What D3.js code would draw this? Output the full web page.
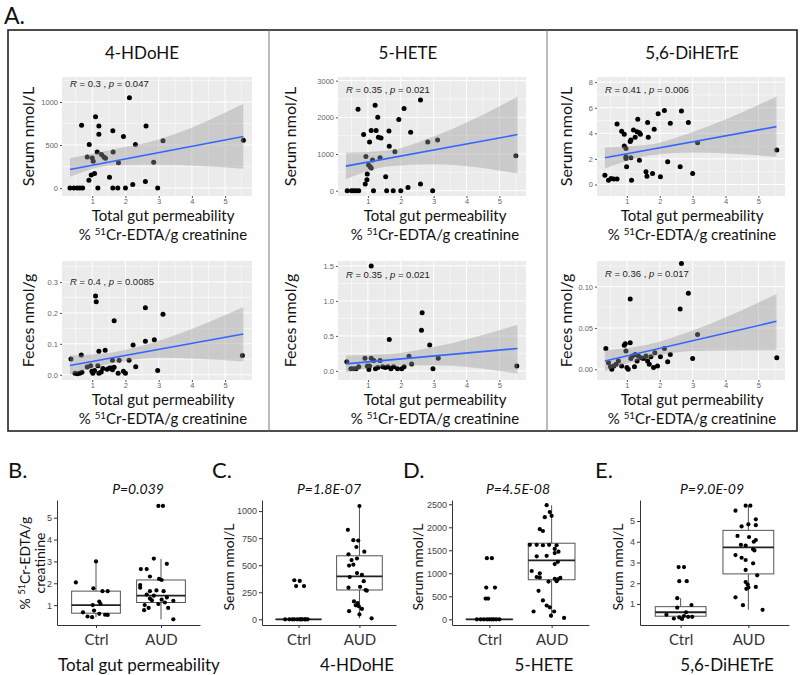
<!DOCTYPE html>
<html>
<head>
<meta charset="utf-8">
<script src="https://cdn.jsdelivr.net/npm/d3@7"></script>
<style>
  body { margin: 0; background: #fff; }
  svg { display: block; font-family: Lato, "Open Sans", sans-serif; }
</style>
</head>
<body>
<svg id="fig" width="800" height="675"></svg>
<script>
// ---- scatter data: [permeability, level] ----
var hdoheSerum = [[0.33,0],[0.45,0],[0.55,0],[0.63,0],[0.71,0],[0.68,730],[0.90,90],[0.91,505],[0.85,360],[1.0,350],
  [0.97,150],[1.07,170],[1.10,830],[1.2,720],[1.2,625],[1.15,420],[1.17,0],[1.28,390],[1.35,360],[1.03,310],[1.4,345],
  [1.52,125],[1.62,665],[1.63,420],[1.62,0],[1.79,295],[1.77,0],[1.94,600],[2.0,0],[2.12,1050],[2.22,40],[2.3,505],
  [2.62,720],[2.6,75],[2.85,300],[2.97,0],[3.13,550],[5.55,555]];
var heteSerum = [[0.37,0],[0.5,0],[0.57,0],[0.64,0],[0.72,0],[0.7,2220],[0.87,1530],[0.94,930],[0.92,180],[0.97,300],
  [0.98,455],[1.02,700],[1.07,650],[1.1,620],[1.05,1330],[1.1,1640],[1.14,840],[1.17,0],[1.22,2330],[1.25,1640],
  [1.3,2000],[1.32,1460],[1.4,1440],[1.37,900],[1.54,380],[1.57,0],[1.64,1630],[1.65,1210],[1.77,0],[1.82,1060],
  [1.94,1940],[2.0,0],[2.1,2240],[2.22,90],[2.3,1590],[2.6,2470],[2.6,180],[2.82,1330],[2.97,0],[3.12,1380],[5.5,950]];
var dihetreSerum = [[0.33,0.73],[0.44,0.34],[0.52,0.47],[0.6,0.42],[0.7,0.42],[0.7,4.73],[0.84,4.16],[0.92,3.92],
  [0.92,3.0],[0.97,2.82],[0.97,2.17],[0.97,2.04],[0.99,1.39],[1.1,3.35],[1.12,3.48],[1.12,2.09],[1.14,0.34],[1.2,4.26],
  [1.25,3.69],[1.31,4.13],[1.33,5.1],[1.38,4.05],[1.41,3.92],[1.38,1.9],[1.58,0.99],[1.61,0.65],[1.63,4.84],[1.65,3.69],
  [1.78,0.86],[1.83,4.31],[1.95,5.52],[2.02,0.6],[2.14,5.78],[2.24,1.78],[2.32,4.78],[2.62,1.39],[2.66,5.75],[2.87,4.84],
  [3.0,0.86],[3.15,3.27],[5.56,2.69]];
var hdoheFeces = [[0.36,0.051],[0.48,0.005],[0.55,0.003],[0.62,0.005],[0.69,0.008],[0.67,0.064],[0.85,0.025],[0.95,0.029],
  [0.99,0.011],[1.02,0.005],[1.07,0.014],[1.1,0.255],[1.12,0.236],[1.17,0.029],[1.2,0.076],[1.2,0.005],[1.27,0.009],
  [1.32,0.02],[1.39,0.079],[1.45,0.018],[1.52,0.022],[1.58,0.022],[1.61,0.047],[1.61,0.016],[1.66,0.024],[1.66,0.175],
  [1.78,0.005],[1.81,0.047],[1.94,0.011],[2.0,0.005],[2.11,0.047],[2.23,0.096],[2.31,0.026],[2.6,0.217],[2.6,0.108],
  [2.87,0.113],[2.97,0.014],[3.13,0.196],[5.52,0.062]];
var heteFeces = [[0.36,0.13],[0.48,0.03],[0.56,0.03],[0.64,0.03],[0.72,0.06],[0.91,0.18],[0.98,0.07],[1.03,0.02],
  [1.05,0.07],[1.1,1.5],[1.1,0.18],[1.18,0.15],[1.23,0.03],[1.3,0.05],[1.37,0.15],[1.45,0.06],[1.53,0.05],[1.61,0.06],
  [1.65,0.45],[1.7,0.03],[1.78,0.06],[1.9,0.03],[2.03,0.03],[2.1,0.06],[2.25,0.21],[2.33,0.1],[2.63,0.58],[2.65,0.83],
  [2.88,0.37],[2.98,0.03],[3.14,0.18],[5.53,0.07]];
var dihetreFeces = [[0.36,0.025],[0.44,0.008],[0.5,0.003],[0.54,0.0],[0.6,0.004],[0.67,0.006],[0.74,0.01],[0.84,0.004],
  [0.92,0.029],[0.95,0.031],[0.97,0.022],[1.0,0.002],[1.04,0.0],[1.1,0.085],[1.1,0.032],[1.12,0.013],[1.17,0.016],
  [1.23,0.003],[1.25,0.018],[1.31,0.01],[1.35,0.016],[1.43,0.014],[1.5,0.013],[1.58,0.016],[1.63,0.01],[1.68,0.006],
  [1.73,0.015],[1.81,0.002],[1.85,0.02],[1.93,0.004],[2.02,0.015],[2.14,0.025],[2.24,0.009],[2.32,0.018],[2.62,0.073],
  [2.66,0.128],[2.87,0.092],[3.0,0.013],[3.15,0.042],[5.56,0.014]];

// fitted line (y at x = 0.33 and 5.55) and confidence band read at bandX
var fitX = [0.33, 5.55];
var bandX = [0.33, 1.65, 3.0, 5.55];
var hdoheSerumFit = [215, 600],   hdoheSerumLo = [130, 265, 270, 225],        hdoheSerumHi = [345, 450, 565, 980];
var heteSerumFit = [670, 1530],   heteSerumLo = [310, 665, 720, 470],          heteSerumHi = [1036, 1105, 1480, 2560];
var dihetreSerumFit = [2.09, 4.52], dihetreSerumLo = [1.25, 2.25, 2.5, 2.17],  dihetreSerumHi = [2.9, 3.1, 4.1, 6.88];
var hdoheFecesFit = [0.030, 0.132], hdoheFecesLo = [0.0, 0.038, 0.055, 0.043], hdoheFecesHi = [0.062, 0.073, 0.11, 0.219];
var heteFecesFit = [0.10, 0.32],  heteFecesLo = [-0.02, 0.07, 0.08, -0.04],    heteFecesHi = [0.22, 0.24, 0.34, 0.66];
var dihetreFecesFit = [0.010, 0.058], dihetreFecesLo = [-0.002, 0.014, 0.022, 0.023], dihetreFecesHi = [0.023, 0.030, 0.047, 0.091];

var corrR = ["0.3", "0.35", "0.41", "0.4", "0.35", "0.36"];
var corrP = ["0.047", "0.021", "0.006", "0.0085", "0.021", "0.017"];
var metabolites = ["4-HDoHE", "5-HETE", "5,6-DiHETrE"];

var xTicks = [1, 2, 3, 4, 5];
var hdoheSerumTicks = [0, 500, 1000];
var heteSerumTicks = [0, 1000, 2000, 3000];
var dihetreSerumTicks = [0, 2, 4, 6, 8];
var hdoheFecesTicks = [0, 0.1, 0.2, 0.3];
var heteFecesTicks = [0, 0.5, 1.0, 1.5];
var dihetreFecesTicks = [0, 0.05, 0.10];

// ---- box plot data: [value, jitter offset in category steps] ----
var groups = ["Ctrl", "AUD"];
var gutCtrl = [[3.0,0],[2.04,-0.31],[1.77,-0.04],[1.64,0.10],[1.64,0.18],[1.16,0.05],[1.0,-0.05],[1.05,0.07],
  [0.67,-0.2],[0.75,-0.03],[0.6,0.05],[0.56,0.14],[0.48,-0.13],[0.45,-0.06],[0.55,0.18]];
var gutAud = [[5.54,-0.04],[5.54,0.03],[3.13,-0.11],[2.89,0.09],[2.65,-0.31],[2.65,-0.22],[2.31,-0.17],[2.2,-0.03],
  [2.15,0.01],[1.92,-0.32],[1.8,-0.32],[1.64,-0.17],[1.67,-0.07],[1.64,0.04],[1.48,-0.22],[1.43,-0.11],[1.35,0.09],
  [1.3,-0.17],[1.22,-0.14],[1.25,0.01],[1.2,0.19],[1.0,-0.25],[1.05,-0.04],[1.12,0.06],[0.87,-0.19],[0.87,0.11],
  [0.77,-0.26],[0.35,0.19]];
var hdoheCtrl = [[361,-0.07],[355,0.02],[307,-0.04],[307,0.09],[0,-0.22],[0,-0.15],[0,-0.07],[0,0.02],[0,0.06],
  [0,0.1],[0,0.15],[0,-0.1],[0,0.04],[0,-0.02],[0,0.12]];
var hdoheAud = [[1047,0],[827,-0.19],[731,-0.1],[728,-0.02],[668,-0.05],[625,0.08],[601,-0.18],[562,-0.04],[547,-0.13],
  [505,-0.1],[497,-0.17],[427,-0.04],[412,0.04],[391,-0.16],[352,0.07],[292,-0.18],[300,0.01],[271,0.1],[265,0.12],
  [165,-0.09],[150,-0.03],[129,-0.06],[120,-0.01],[96,0.04],[75,-0.17],[45,0],[9,0.2]];
var heteCtrl = [[1330,-0.04],[1330,0.04],[690,-0.05],[690,0.09],[450,-0.06],[450,-0.02],[0,-0.2],[0,-0.14],[0,-0.04],
  [0,0.04],[0,0.11],[0,0.16],[0,-0.09],[0,0.0],[0,0.07]];
var heteAud = [[2480,-0.08],[2330,-0.03],[2250,0],[2220,-0.11],[1960,-0.19],[1920,-0.14],[1620,-0.35],[1620,-0.24],
  [1610,-0.14],[1620,-0.04],[1610,0.08],[1530,0.05],[1470,0.11],[1440,0.05],[1370,-0.24],[1380,-0.08],[1200,0.05],
  [1250,0.1],[1050,-0.32],[1000,-0.19],[920,-0.24],[910,-0.19],[880,0.05],[870,0.1],[900,0.14],[820,-0.05],[830,0.08],
  [620,-0.21],[410,-0.14],[300,-0.08],[260,-0.03],[170,-0.29],[170,0.04],[80,-0.01],[30,0.2]];
var dihetreCtrl = [[2.78,-0.03],[2.78,0.05],[2.1,-0.02],[2.1,0.09],[1.28,-0.05],[0.82,-0.05],[0.95,0.16],[0.48,-0.21],
  [0.35,-0.02],[0.42,0.05],[0.6,0.08],[0.28,0.02],[0.38,0.11],[0.3,-0.1],[0.38,0.17]];
var dihetreAud = [[5.74,-0.04],[5.74,0.03],[5.5,-0.19],[5.08,0.11],[4.84,0],[4.8,0.11],[4.74,-0.1],[4.28,-0.16],
  [4.23,0.01],[4.08,0.11],[4.0,0.08],[3.85,-0.11],[3.82,-0.04],[3.64,0.07],[3.58,0.09],[3.36,-0.19],[3.23,-0.1],
  [3.12,-0.04],[2.96,0.07],[2.64,-0.04],[2.38,0.13],[2.06,-0.04],[1.94,-0.01],[1.8,0],[1.73,-0.03],[1.82,0.11],
  [1.32,-0.19],[0.94,-0.08],[0.72,0.21]];

// box stats: [lower whisker, q1, median, q3, upper whisker]
var gutCtrlBox = [0.45, 0.63, 1.0, 1.64, 3.0],   gutAudBox = [0.35, 1.12, 1.43, 2.15, 3.12];
var hdoheCtrlBox = [0, 0, 0, 0, 0],              hdoheAudBox = [9, 271, 397, 587, 1047];
var heteCtrlBox = [0, 0, 0, 0, 0],               heteAudBox = [30, 860, 1280, 1654, 2480];
var dihetreCtrlBox = [0.28, 0.41, 0.6, 0.87, 1.28], dihetreAudBox = [0.72, 2.45, 3.73, 4.55, 5.74];

var gutTicks = [1, 2, 3, 4, 5];
var hdoheTicks = [0, 250, 500, 750, 1000];
var heteTicks = [0, 500, 1000, 1500, 2000, 2500];
var dihetreTicks = [1, 2, 3, 4, 5];
var pValues = ["P=0.039", "P=1.8E-07", "P=4.5E-08", "P=9.0E-09"];

var svg = d3.select("#fig");

// ---------- panel A frame ----------
svg.append("text").attr("x", 4).attr("y", 24).attr("font-size", 23).attr("fill", "#111").text("A.");
svg.append("rect").attr("x", 8).attr("y", 30).attr("width", 789).attr("height", 401)
  .attr("fill", "none").attr("stroke", "#222").attr("stroke-width", 1.6);
[269, 547].forEach(function(d) {
  svg.append("line").attr("x1", d).attr("x2", d).attr("y1", 30).attr("y2", 431)
    .attr("stroke", "#777").attr("stroke-width", 1);
});

function permLabel(g, cx, y, size) {
  var t = g.append("text").attr("x", cx).attr("y", y).attr("text-anchor", "middle")
    .attr("font-size", size).attr("fill", "#111");
  t.append("tspan").text("% ");
  t.append("tspan").attr("font-size", size * 0.65).attr("dy", -size * 0.35).text("51");
  t.append("tspan").attr("dy", size * 0.35).text("Cr-EDTA/g creatinine");
  return t;
}

function minorBreaks(ticks, dom) {
  var step = ticks[1] - ticks[0], out = [];
  for (var v = ticks[0] - step / 2; v <= dom[1]; v += step) if (v >= dom[0]) out.push(v);
  return out;
}

var scatterPanels = [
  {pts: hdoheSerum, fit: hdoheSerumFit, lo: hdoheSerumLo, hi: hdoheSerumHi, ticks: hdoheSerumTicks, fmt: "d",
   x0: 62, x1: 252, y0: 77, y1: 196, yDom: [-93, 1291], labY: 1210, col: 0, ylab: "Serum nmol/L"},
  {pts: heteSerum, fit: heteSerumFit, lo: heteSerumLo, hi: heteSerumHi, ticks: heteSerumTicks, fmt: "d",
   x0: 338, x1: 526, y0: 77, y1: 196, yDom: [-145, 3100], labY: 2750, col: 1, ylab: "Serum nmol/L"},
  {pts: dihetreSerum, fit: dihetreSerumFit, lo: dihetreSerumLo, hi: dihetreSerumHi, ticks: dihetreSerumTicks, fmt: "d",
   x0: 597, x1: 785, y0: 77, y1: 196, yDom: [-0.9, 8.4], labY: 7.4, col: 2, ylab: "Serum nmol/L"},
  {pts: hdoheFeces, fit: hdoheFecesFit, lo: hdoheFecesLo, hi: hdoheFecesHi, ticks: hdoheFecesTicks, fmt: ".1f",
   x0: 62, x1: 252, y0: 261, y1: 380, yDom: [-0.017, 0.368], labY: 0.3, col: 0, ylab: "Feces nmol/g"},
  {pts: heteFeces, fit: heteFecesFit, lo: heteFecesLo, hi: heteFecesHi, ticks: heteFecesTicks, fmt: ".1f",
   x0: 338, x1: 526, y0: 261, y1: 380, yDom: [-0.13, 1.57], labY: 1.37, col: 1, ylab: "Feces nmol/g"},
  {pts: dihetreFeces, fit: dihetreFecesFit, lo: dihetreFecesLo, hi: dihetreFecesHi, ticks: dihetreFecesTicks, fmt: ".2f",
   x0: 597, x1: 785, y0: 261, y1: 380, yDom: [-0.013, 0.131], labY: 0.116, col: 2, ylab: "Feces nmol/g"}
];

var colTitleX = [142, 408, 692], colXlabX = [163, 435, 692], colYlabX = [28, 290, 566];

scatterPanels.forEach(function(p, i) {
  var x = d3.scaleLinear().domain([0.09, 5.81]).range([p.x0, p.x1]);
  var y = d3.scaleLinear().domain(p.yDom).range([p.y1, p.y0]);
  var g = svg.append("g");
  var clipId = "clip" + i;
  g.append("clipPath").attr("id", clipId).append("rect")
    .attr("x", p.x0).attr("y", p.y0).attr("width", p.x1 - p.x0).attr("height", p.y1 - p.y0);

  g.append("rect").attr("x", p.x0).attr("y", p.y0).attr("width", p.x1 - p.x0).attr("height", p.y1 - p.y0)
    .attr("fill", "#EBEBEB");
  // grid
  minorBreaks(xTicks, x.domain()).forEach(function(v) {
    g.append("line").attr("x1", x(v)).attr("x2", x(v)).attr("y1", p.y0).attr("y2", p.y1)
      .attr("stroke", "#fff").attr("stroke-width", 0.5);
  });
  minorBreaks(p.ticks, p.yDom).forEach(function(v) {
    g.append("line").attr("x1", p.x0).attr("x2", p.x1).attr("y1", y(v)).attr("y2", y(v))
      .attr("stroke", "#fff").attr("stroke-width", 0.5);
  });
  xTicks.forEach(function(v) {
    g.append("line").attr("x1", x(v)).attr("x2", x(v)).attr("y1", p.y0).attr("y2", p.y1)
      .attr("stroke", "#fff").attr("stroke-width", 1);
  });
  p.ticks.forEach(function(v) {
    g.append("line").attr("x1", p.x0).attr("x2", p.x1).attr("y1", y(v)).attr("y2", y(v))
      .attr("stroke", "#fff").attr("stroke-width", 1);
  });

  g.selectAll(".pt").data(p.pts).enter().append("circle")
    .attr("cx", function(d) { return x(d[0]); })
    .attr("cy", function(d) { return y(d[1]); })
    .attr("r", 2.5).attr("fill", "#000");

  var band = bandX.map(function(v, k) { return [v, p.lo[k], p.hi[k]]; });
  g.append("path").datum(band).attr("clip-path", "url(#" + clipId + ")")
    .attr("d", d3.area().curve(d3.curveMonotoneX)
      .x(function(d) { return x(d[0]); })
      .y0(function(d) { return y(d[1]); })
      .y1(function(d) { return y(d[2]); }))
    .attr("fill", "#999").attr("fill-opacity", 0.4);
  g.append("line").attr("clip-path", "url(#" + clipId + ")")
    .attr("x1", x(fitX[0])).attr("y1", y(p.fit[0])).attr("x2", x(fitX[1])).attr("y2", y(p.fit[1]))
    .attr("stroke", "#3366FF").attr("stroke-width", 1.6);

  // axes
  var ax = g.append("g").attr("transform", "translate(" + p.x0 + ",0)")
    .call(d3.axisLeft(y).tickValues(p.ticks).tickSize(2).tickPadding(2).tickFormat(d3.format(p.fmt)));
  var bx = g.append("g").attr("transform", "translate(0," + p.y1 + ")")
    .call(d3.axisBottom(x).tickValues(xTicks).tickSize(2).tickPadding(1).tickFormat(d3.format("d")));
  [ax, bx].forEach(function(a) {
    a.select(".domain").remove();
    a.selectAll("line").attr("stroke", "#555");
    a.selectAll("text").attr("font-family", "'Liberation Sans', Arial, sans-serif")
      .attr("font-size", 7.5).attr("fill", "#666");
  });

  // correlation label
  var lab = g.append("text").attr("x", x(0.33)).attr("y", y(p.labY)).attr("dy", "0.35em")
    .attr("font-family", "'Liberation Sans', Arial, sans-serif").attr("font-size", 9.5).attr("fill", "#222");
  lab.append("tspan").attr("font-style", "italic").text("R");
  lab.append("tspan").text(" = " + corrR[i] + " , ");
  lab.append("tspan").attr("font-style", "italic").text("p");
  lab.append("tspan").text(" = " + corrP[i]);

  // titles and axis labels
  var top = p.y0 < 150;
  if (top) {
    svg.append("text").attr("x", colTitleX[p.col]).attr("y", 59).attr("text-anchor", "middle")
      .attr("font-size", 17).attr("fill", "#111").text(metabolites[p.col]);
  }
  var cy = (p.y0 + p.y1) / 2;
  svg.append("text").attr("transform", "translate(" + colYlabX[p.col] + "," + cy + ") rotate(-90)")
    .attr("text-anchor", "middle").attr("dy", "0.35em").attr("font-size", 16).attr("fill", "#111").text(p.ylab);
  var base = top ? 221 : 405;
  svg.append("text").attr("x", colXlabX[p.col]).attr("y", base).attr("text-anchor", "middle")
    .attr("font-size", 15).attr("fill", "#111").text("Total gut permeability");
  permLabel(svg, colXlabX[p.col], base + 19, 15);
});

// ---------- panels B-E ----------
var boxPanels = [
  {ctrl: gutCtrl, aud: gutAud, ctrlBox: gutCtrlBox, audBox: gutAudBox, ticks: gutTicks, yDom: [0.09, 5.81],
   x0: 57, x1: 200, letter: "B.", letterX: 8, pX: 138, xlab: "Total gut permeability", xlabX: 139, ylabX: 25},
  {ctrl: hdoheCtrl, aud: hdoheAud, ctrlBox: hdoheCtrlBox, audBox: hdoheAudBox, ticks: hdoheTicks, yDom: [-52.5, 1102.5],
   x0: 262, x1: 396, letter: "C.", letterX: 212, pX: 329, xlab: "4-HDoHE", xlabX: 357, ylabX: 229},
  {ctrl: heteCtrl, aud: heteAud, ctrlBox: heteCtrlBox, audBox: heteAudBox, ticks: heteTicks, yDom: [-123.5, 2593.5],
   x0: 452, x1: 589, letter: "D.", letterX: 403, pX: 518, xlab: "5-HETE", xlabX: 544, ylabX: 418},
  {ctrl: dihetreCtrl, aud: dihetreAud, ctrlBox: dihetreCtrlBox, audBox: dihetreAudBox, ticks: dihetreTicks, yDom: [-0.014, 6.014],
   x0: 640, x1: 789, letter: "E.", letterX: 595, pX: 712, xlab: "5,6-DiHETrE", xlabX: 727, ylabX: 618}
];
var bTop = 500, bBot = 625;

boxPanels.forEach(function(p, i) {
  var x = d3.scalePoint().domain(groups).range([p.x0, p.x1]).padding(0.6);
  var y = d3.scaleLinear().domain(p.yDom).range([bBot, bTop]);
  var step = x.step(), bw = step * 0.75;
  var g = svg.append("g");

  [[groups[0], p.ctrlBox], [groups[1], p.audBox]].forEach(function(b) {
    var cx = x(b[0]), s = b[1];
    g.append("line").attr("x1", cx).attr("x2", cx).attr("y1", y(s[0])).attr("y2", y(s[4]))
      .attr("stroke", "#555").attr("stroke-width", 1);
    g.append("rect").attr("x", cx - bw / 2).attr("width", bw).attr("y", y(s[3]))
      .attr("height", Math.max(0.01, y(s[1]) - y(s[3]))).attr("fill", "#fff")
      .attr("stroke", "#555").attr("stroke-width", 1);
    g.append("line").attr("x1", cx - bw / 2).attr("x2", cx + bw / 2).attr("y1", y(s[2])).attr("y2", y(s[2]))
      .attr("stroke", "#222").attr("stroke-width", 1.8);
  });

  [[groups[0], p.ctrl], [groups[1], p.aud]].forEach(function(gr) {
    g.selectAll(null).data(gr[1]).enter().append("circle")
      .attr("cx", function(d) { return x(gr[0]) + d[1] * step; })
      .attr("cy", function(d) { return y(d[0]); })
      .attr("r", 2.1).attr("fill", "#000");
  });

  var ax = g.append("g").attr("transform", "translate(" + p.x0 + ",0)")
    .call(d3.axisLeft(y).tickValues(p.ticks).tickSize(3).tickSizeOuter(0).tickPadding(2).tickFormat(d3.format("d")));
  ax.selectAll("text").attr("font-family", "'Liberation Sans', Arial, sans-serif").attr("font-size", 9).attr("fill", "#444");
  var bx = g.append("g").attr("transform", "translate(0," + bBot + ")")
    .call(d3.axisBottom(x).tickSize(3).tickSizeOuter(0).tickPadding(6));
  bx.selectAll("text").attr("font-size", 15).attr("fill", "#333").attr("font-family", "Lato, 'Open Sans', sans-serif");
  [ax, bx].forEach(function(a) {
    a.select(".domain").attr("stroke", "#333");
    a.selectAll(".tick line").attr("stroke", "#333");
  });

  svg.append("text").attr("x", p.letterX).attr("y", 478).attr("font-size", 22).attr("fill", "#111").text(p.letter);
  svg.append("text").attr("x", p.pX).attr("y", 494).attr("text-anchor", "middle").attr("font-style", "italic")
    .attr("font-size", 14).attr("fill", "#111").text(pValues[i]);
  svg.append("text").attr("x", p.xlabX).attr("y", 671).attr("text-anchor", "middle")
    .attr("font-size", 17).attr("fill", "#111").text(p.xlab);

  if (i === 0) {
    var yl = svg.append("g").attr("transform", "translate(" + p.ylabX + ",563) rotate(-90)");
    permLabel(yl, 0, 5, 14).selectAll("tspan").filter(function(d, k) { return k === 2; }).text("Cr-EDTA/g");
    yl.append("text").attr("x", 0).attr("y", 20).attr("text-anchor", "middle").attr("font-size", 14)
      .attr("fill", "#111").text("creatinine");
  } else {
    svg.append("text").attr("transform", "translate(" + p.ylabX + ",567) rotate(-90)")
      .attr("text-anchor", "middle").attr("dy", "0.35em").attr("font-size", 14).attr("fill", "#111")
      .text("Serum nmol/L");
  }
});
</script>
</body>
</html>
